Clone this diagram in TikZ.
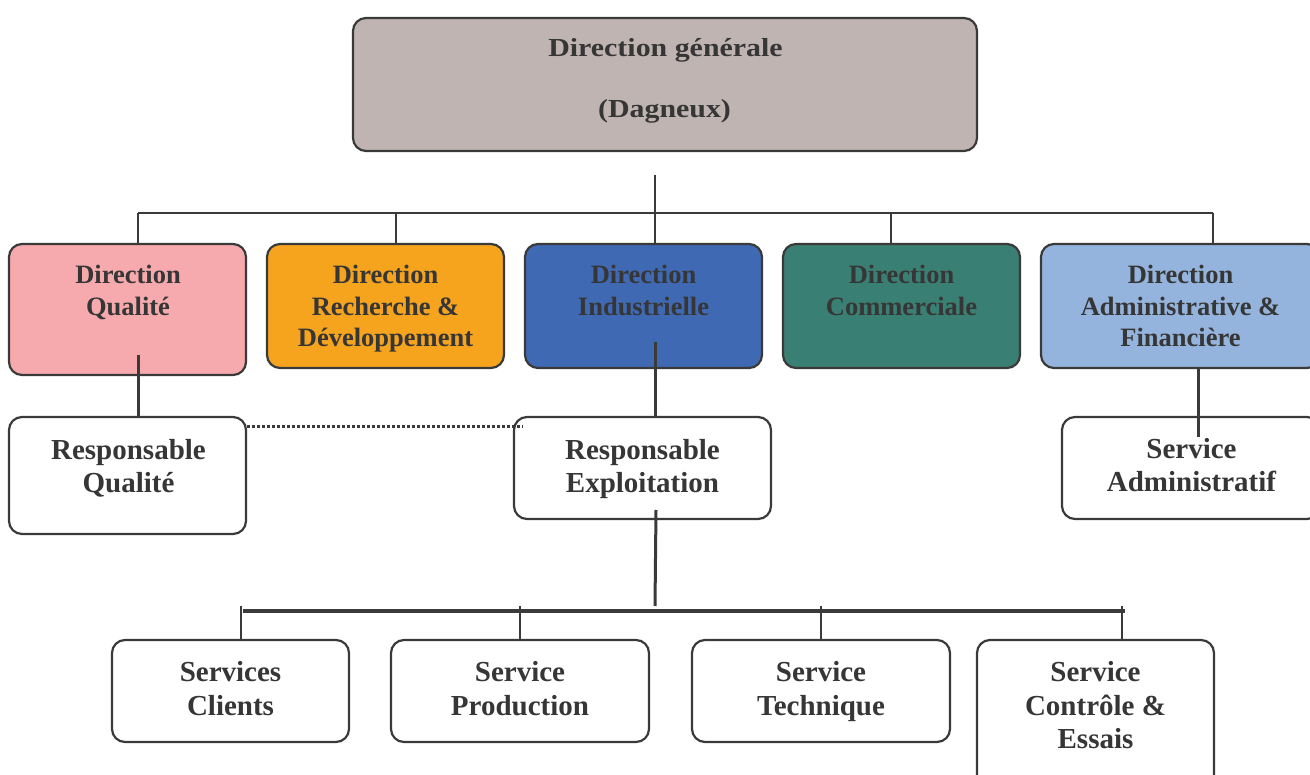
\documentclass[tikz,border=0pt]{standalone}
\usepackage{fontspec}
\newfontfamily\tnr{Liberation Serif}
\newfontfamily\wtnr[FakeStretch=1.15]{Liberation Serif}
\definecolor{cdg}{HTML}{BFB4B1}
\definecolor{cq}{HTML}{F7AAAD}
\definecolor{crd}{HTML}{F6A41E}
\definecolor{ci}{HTML}{3F69B3}
\definecolor{cc}{HTML}{3A7F73}
\definecolor{ca}{HTML}{94B4DE}
\definecolor{txtc}{HTML}{363636}
\definecolor{bordc}{HTML}{3A3A3A}
\begin{document}
\begin{tikzpicture}[x=1pt,y=-1pt,
  box/.style={draw=bordc, line width=2.2pt, rounded corners=13pt, inner sep=0pt},
  ttop/.style={font=\wtnr\bfseries\fontsize{26}{30}\selectfont, text=txtc, inner sep=0pt, anchor=base},
  ttwo/.style={font=\tnr\bfseries\fontsize{26.5}{31.5}\selectfont, text=txtc, align=center, inner sep=0pt, anchor=north},
  tthree/.style={font=\tnr\bfseries\fontsize{29}{33.5}\selectfont, text=txtc, align=center, inner sep=0pt, anchor=north},
  conna/.style={draw=bordc, line width=2pt},
  connb/.style={draw=bordc, line width=3pt},
  connbar/.style={draw=bordc, line width=4pt},
  conndrop/.style={draw=bordc, line width=2.5pt},
  conndot/.style={draw=bordc, line width=3pt, dash pattern=on 3pt off 2pt}
]
\useasboundingbox (0,0) rectangle (1310,775);

% top box
\node[box, fill=cdg, minimum width=624pt, minimum height=133pt] (dg) at (665,84.5) {};
\node[ttop] (dgt1) at (665.5,57) {Direction générale};
\node[ttop] (dgt2) at (664.5,118) {(Dagneux)};

% second row
\node[box, fill=cq, minimum width=237pt, minimum height=131pt] (dq) at (127.5,309.5) {};
\node[box, fill=crd, minimum width=237pt, minimum height=124pt] (drd) at (385.5,306) {};
\node[box, fill=ci, minimum width=237pt, minimum height=124pt] (di) at (643.5,306) {};
\node[box, fill=cc, minimum width=237pt, minimum height=124pt] (dc) at (901.5,306) {};
\node[box, fill=ca, minimum width=279pt, minimum height=124pt] (da) at (1180.5,306) {};

\node[ttwo] (tq) at (128,265) {Direction\\Qualité};
\node[ttwo] (trd) at (385.5,265) {Direction\\Recherche \&\\Développement};
\node[ttwo] (ti) at (643.5,265) {Direction\\Industrielle};
\node[ttwo] (tc) at (901.5,265) {Direction\\Commerciale};
\node[ttwo] (ta) at (1180.5,265) {Direction\\Administrative \&\\Financière};

% third row
\node[box, fill=white, minimum width=237pt, minimum height=117pt] (rq) at (127.5,475.5) {};
\node[box, fill=white, minimum width=257pt, minimum height=102pt] (re) at (642.5,468) {};
\node[box, fill=white, minimum width=258pt, minimum height=102pt] (sa) at (1191,468) {};

\node[tthree] (trq) at (128.5,439) {Responsable\\Qualité};
\node[tthree] (tre) at (642.5,439) {Responsable\\Exploitation};
\node[tthree] (tsa) at (1191.5,438) {Service\\Administratif};

% fourth row
\node[box, fill=white, minimum width=237pt, minimum height=102pt] (sc) at (230.5,691) {};
\node[box, fill=white, minimum width=258pt, minimum height=102pt] (sp) at (520,691) {};
\node[box, fill=white, minimum width=258pt, minimum height=102pt] (st) at (821,691) {};
\node[box, fill=white, minimum width=237pt, minimum height=150pt] (sce) at (1095.5,715) {};

\node[tthree] (tsc) at (230.5,661.5) {Services\\Clients};
\node[tthree] (tsp) at (520,661.5) {Service\\Production};
\node[tthree] (tst) at (821,661.5) {Service\\Technique};
\node[tthree] (tsce) at (1095.5,661.5) {Service\\Contrôle \&\\Essais};

% top tree
\coordinate (top) at (655,175);
\coordinate (jq) at (138,213);
\coordinate (jr) at (396,213);
\coordinate (jc) at (891,213);
\coordinate (ja) at (1213,213);
\draw[conna] (jq) -- (ja);
\draw[conna] (jq) -- (jq |- dq.north);
\draw[conna] (jr) -- (jr |- drd.north);
\draw[conna] (jc) -- (jc |- dc.north);
\draw[conna] (ja) -- (ja |- da.north);
\draw[conna] (top) -- (top |- di.north);

% second to third row
\coordinate (qin) at (138,355);
\coordinate (iin) at (655,342);
\coordinate (ain) at (1198,368);
\coordinate (aend) at (1198,437);
\draw[connb] (qin) -- (qin |- rq.north);
\draw[connb] (iin) -- (iin |- re.north);
\draw[connb] (ain) -- (aend);

% dotted link
\coordinate (dotend) at (523,427);
\draw[conndot] (rq.east |- dotend) -- (dotend);

% exploitation tree
\coordinate (ein) at (656,510);
\coordinate (eend) at (655,606);
\draw[connb] (ein) -- (eend);
\coordinate (bl) at (243,611);
\coordinate (br) at (1125,611);
\draw[connbar] (bl) -- (br);
\coordinate (d1) at (241,606);
\coordinate (d2) at (520,606);
\coordinate (d3) at (821,606);
\coordinate (d4) at (1122,606);
\draw[conndrop] (d1) -- (d1 |- sc.north);
\draw[conndrop] (d2) -- (d2 |- sp.north);
\draw[conndrop] (d3) -- (d3 |- st.north);
\draw[conndrop] (d4) -- (d4 |- sce.north);
\end{tikzpicture}
\end{document}
